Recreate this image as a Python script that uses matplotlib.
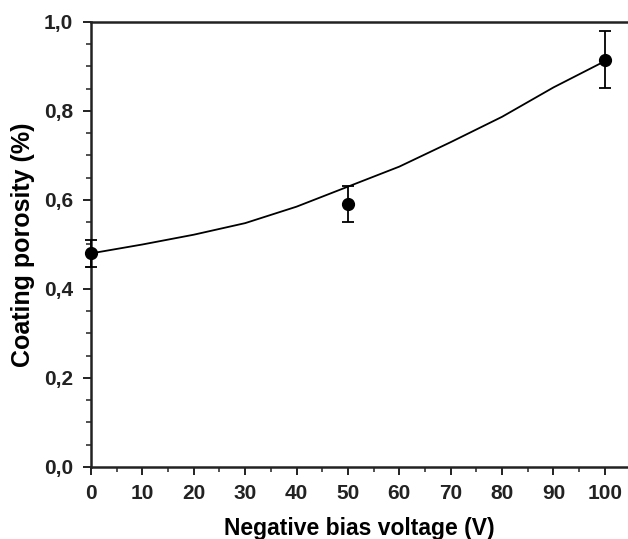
import matplotlib
matplotlib.use("Agg")
import matplotlib.pyplot as plt
from matplotlib.ticker import MultipleLocator, FuncFormatter

plt.rcParams['font.family'] = ['Liberation Sans', 'DejaVu Sans']
plt.rcParams['font.weight'] = 'bold'

bias_v = [0, 50, 100]
porosity = [0.480, 0.591, 0.915]
porosity_err = [0.030, 0.040, 0.064]

fit_x = [0, 10, 20, 30, 40, 50, 60, 70, 80, 90, 100]
fit_y = [0.480, 0.500, 0.522, 0.548, 0.585, 0.630, 0.675, 0.730, 0.787, 0.853, 0.912]

fig = plt.figure(figsize=(6.28, 5.39), dpi=100)
ax = fig.add_axes([0.1449, 0.1336, 0.8551, 0.8256])

ax.plot(fit_x, fit_y, color='black', lw=1.3, zorder=2)
ax.errorbar(bias_v, porosity, yerr=porosity_err, fmt='o', color='black',
            ms=8.5, capsize=4, elinewidth=1.3, capthick=1.3, zorder=3, clip_on=False)

ax.set_xlim(0, 104.5)
ax.set_ylim(0, 1.0)
ax.xaxis.set_major_locator(MultipleLocator(10))
ax.xaxis.set_minor_locator(MultipleLocator(5))
ax.yaxis.set_major_locator(MultipleLocator(0.2))
ax.yaxis.set_minor_locator(MultipleLocator(0.05))
ax.yaxis.set_major_formatter(FuncFormatter(lambda v, p: f"{v:.1f}".replace('.', ',')))

for s in ['left', 'bottom', 'top']:
    ax.spines[s].set_linewidth(1.8)
    ax.spines[s].set_color('#222222')
ax.spines['right'].set_visible(False)

ax.tick_params(which='major', direction='out', length=6, width=1.4, colors='#222222', labelsize=15)
ax.tick_params(which='minor', direction='out', length=3.5, width=1.1, colors='#222222')
ax.tick_params(axis='x', which='major', pad=6)
ax.tick_params(axis='y', which='major', pad=7)
for lbl in ax.get_xticklabels() + ax.get_yticklabels():
    lbl.set_fontweight('bold')

ax.set_xlabel('Negative bias voltage (V)', fontsize=16.5, fontweight='bold', labelpad=10)
ax.set_ylabel('Coating porosity (%)', fontsize=18, fontweight='bold', labelpad=6)

fig.savefig('out.png', dpi=100)
